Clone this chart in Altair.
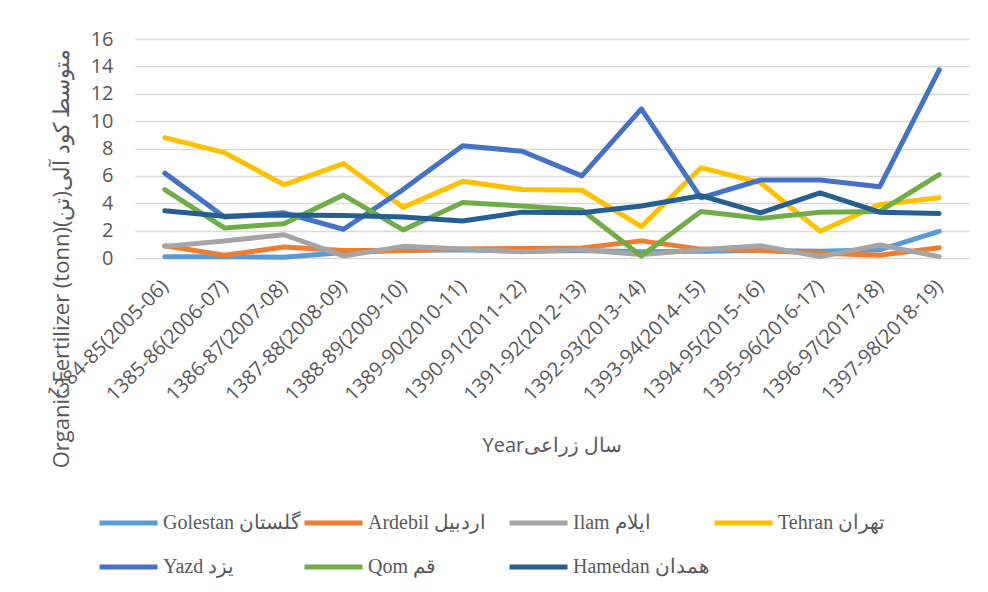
import altair as alt
import pandas as pd

years = ["1384-85(2005-06)", "1385-86(2006-07)", "1386-87(2007-08)", "1387-88(2008-09)",
         "1388-89(2009-10)", "1389-90(2010-11)", "1390-91(2011-12)", "1391-92(2012-13)",
         "1392-93(2013-14)", "1393-94(2014-15)", "1394-95(2015-16)", "1395-96(2016-17)",
         "1396-97(2017-18)", "1397-98(2018-19)"]

golestan = [0.1, 0.1, 0.05, 0.4, 0.55, 0.6, 0.5, 0.55, 0.45, 0.5, 0.55, 0.5, 0.6, 1.95]
ardebil = [0.9, 0.2, 0.8, 0.55, 0.55, 0.65, 0.7, 0.73, 1.25, 0.65, 0.55, 0.35, 0.2, 0.75]
ilam = [0.85, 1.25, 1.7, 0.15, 0.85, 0.65, 0.45, 0.6, 0.25, 0.6, 0.9, 0.1, 0.95, 0.1]
tehran = [8.8, 7.7, 5.35, 6.9, 3.7, 5.6, 5.0, 4.95, 2.3, 6.6, 5.5, 1.95, 3.9, 4.4]
yazd = [6.2, 3.0, 3.3, 2.1, 5.0, 8.2, 7.8, 6.0, 10.9, 4.4, 5.7, 5.7, 5.2, 13.75]
qom = [5.0, 2.2, 2.5, 4.6, 2.05, 4.05, 3.8, 3.5, 0.15, 3.4, 2.9, 3.35, 3.4, 6.1]
hamedan = [3.45, 3.05, 3.15, 3.1, 3.0, 2.7, 3.35, 3.3, 3.8, 4.55, 3.3, 4.75, 3.35, 3.25]

series_names = ["Golestan گلستان", "Ardebil اردبیل", "Ilam ایلام", "Tehran تهران",
                "Yazd یزد", "Qom قم", "Hamedan همدان"]
series_values = [golestan, ardebil, ilam, tehran, yazd, qom, hamedan]
colors = ["#5B9BD5", "#ED7D31", "#A5A5A5", "#FFC000", "#4472C4", "#70AD47", "#255E91"]

rows = []
for si, (name, vals) in enumerate(zip(series_names, series_values)):
    for yr, v in zip(years, vals):
        rows.append({"year": yr, "value": v, "series": name, "ord": si})
df = pd.DataFrame(rows)

chart = alt.Chart(df).mark_line(strokeWidth=5, strokeCap="round", strokeJoin="round").encode(
    x=alt.X("year:N", sort=years,
            axis=alt.Axis(title="Yearسال زراعی", labelAngle=-45, labelAlign="right",
                          labelBaseline="middle", labelPadding=25, labelFontSize=20,
                          labelFont="Open Sans", labelColor="#595959", ticks=False,
                          tickSize=0, domain=False, grid=False, labelOverlap=False,
                          titleFont="Open Sans", titleFontSize=20, titleFontWeight="normal",
                          titleColor="#595959", titleY=187, titleBaseline="middle")),
    y=alt.Y("value:Q", scale=alt.Scale(domain=[0, 16], nice=False),
            axis=alt.Axis(title="Organic Fertilizer (tonn)متوسط کود آلی(تن)",
                          values=[0, 2, 4, 6, 8, 10, 12, 14, 16], ticks=False, tickSize=0,
                          domain=False, grid=True, gridColor="#D9D9D9", gridWidth=1.5,
                          labelFont="Open Sans", labelFontSize=20, labelColor="#595959",
                          labelPadding=22, titleFont="Open Sans", titleFontSize=22,
                          titleFontWeight="normal", titleColor="#595959",
                          titleX=-74, titleY=219, titleAngle=270, titleBaseline="middle",
                          titleAlign="center")),
    color=alt.Color("series:N", scale=alt.Scale(domain=series_names, range=colors),
                    legend=alt.Legend(title=None, orient="none", legendX=-38, legendY=472,
                                      direction="horizontal", columns=4, symbolType="stroke",
                                      symbolSize=3364, symbolStrokeWidth=5, clipHeight=24,
                                      rowPadding=20, columnPadding=0, gridAlign="all",
                                      labelFont="Liberation Serif", labelFontSize=20,
                                      labelColor="#595959", labelOffset=3, labelLimit=300,
                                      padding=0)),
    order=alt.Order("ord:Q"),
    detail="series:N",
).properties(
    width=834, height=219,
    autosize=alt.AutoSizeParams(type="none"),
    padding={"left": 127, "top": 31, "right": 5, "bottom": 322},
).configure_view(stroke=None)

chart.save("out.html", embed_options={"renderer": "svg", "actions": False})
